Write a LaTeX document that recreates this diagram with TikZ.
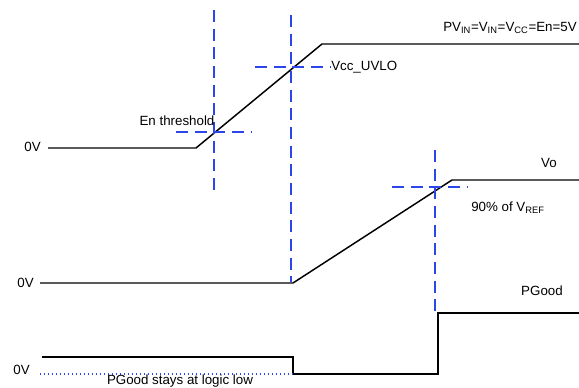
\documentclass[tikz,border=0pt]{standalone}
\usepackage{fontspec}
\setmainfont{Liberation Sans}
\begin{document}
\begin{tikzpicture}[x=0.75pt,y=-0.75pt,
  wave/.style={line width=1.1pt,black},
  guide/.style={line width=1.1pt,color=guideblue,dash pattern=on 9pt off 5pt},
  lbl/.style={inner sep=0pt,font=\fontsize{10}{12}\selectfont}]
\definecolor{guideblue}{RGB}{45,70,235}
\useasboundingbox (0,0) rectangle (579,388);
% top waveform (PVIN / En)
\coordinate (t0) at (48,148);
\coordinate (t1) at (196,148);
\coordinate (t2) at (322,44);
\coordinate (t3) at (579,44);
\draw[wave] (t0) -- (t1) -- (t2) -- (t3);
% middle waveform (Vo)
\coordinate (m0) at (40,283);
\coordinate (m1) at (293,283);
\coordinate (m2) at (452,180);
\coordinate (m3) at (579,180);
\draw[wave] (m0) -- (m1) -- (m2) -- (m3);
% bottom waveform (PGood)
\coordinate (p0) at (42,357);
\coordinate (p1) at (293,357);
\coordinate (p2) at (293,374);
\coordinate (p3) at (438,374);
\coordinate (p4) at (438,313);
\coordinate (p5) at (579,313);
\draw[wave] (p0) -- (p1) -- (p2) -- (p3) -- (p4) -- (p5);
\coordinate (d0) at (40,374);
\draw[guideblue,line width=1pt,dotted] (d0) -- (p2);
% guides
\coordinate (e1) at (214,10);
\coordinate (e2) at (214,190);
\coordinate (e3) at (176,132);
\coordinate (e4) at (252,132);
\draw[guide] (e1) -- (e2);
\draw[guide] (e3) -- (e4);
\coordinate (u1) at (291,15);
\coordinate (u2) at (291,282);
\coordinate (u3) at (255,67);
\coordinate (u4) at (330,67);
\draw[guide] (u1) -- (u2);
\draw[guide] (u3) -- (u4);
\coordinate (r1) at (435,150);
\coordinate (r2) at (435,312);
\coordinate (r3) at (392,187);
\coordinate (r4) at (468,187);
\draw[guide] (r1) -- (r2);
\draw[guide] (r3) -- (r4);
% labels
\node[lbl,anchor=east] (l0a) at (41,147) {0V};
\node[lbl,anchor=east] (l0b) at (34,283) {0V};
\node[lbl,anchor=east] (l0c) at (30,370) {0V};
\node[lbl] (len) at (177,121) {En threshold};
\node[lbl,anchor=west] (luv) at (331,67) {Vcc\_UVLO};
\node[lbl,anchor=east] (lpv) at (577,28) {PV$_{\mathrm{IN}}$=V$_{\mathrm{IN}}$=V$_{\mathrm{CC}}$=En=5V};
\node[lbl] (lvo) at (549,163) {Vo};
\node[lbl] (lref) at (508,208) {90\% of V$_{\mathrm{REF}}$};
\node[lbl] (lpg) at (542,291) {PGood};
\node[lbl] (llow) at (180,381) {PGood stays at logic low};
\end{tikzpicture}
\end{document}
